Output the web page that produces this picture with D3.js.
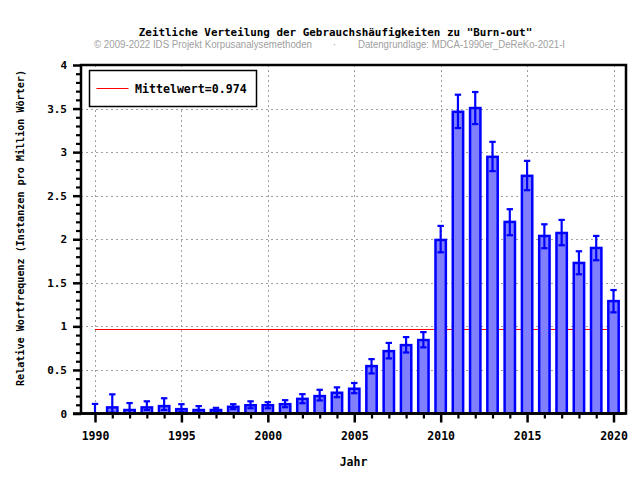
<!DOCTYPE html>
<html><head><meta charset="utf-8">
<script src="https://cdn.jsdelivr.net/npm/d3@7/dist/d3.min.js"></script>
<style>body{margin:0;background:#fff}svg{display:block}</style>
</head><body>
<svg id="c" width="640" height="480"></svg>
<script>
const years = d3.range(1990, 2021);
const values = [0, 0.07, 0.04, 0.07, 0.085, 0.05, 0.04, 0.04, 0.077, 0.095, 0.095, 0.107, 0.168, 0.2, 0.238, 0.284,
  0.544, 0.716, 0.785, 0.843, 1.992, 3.463, 3.506, 2.946, 2.199, 2.728, 2.038, 2.072, 1.728, 1.9, 1.29];
const upper = [0.11, 0.22, 0.12, 0.14, 0.175, 0.107, 0.085, 0.065, 0.107, 0.14, 0.13, 0.153, 0.222, 0.272, 0.30, 0.35,
  0.624, 0.81, 0.877, 0.934, 2.153, 3.659, 3.69, 3.118, 2.345, 2.9, 2.172, 2.222, 1.862, 2.038, 1.417];
const lower = [0, 0.01, 0.005, 0.04, 0.04, 0.02, 0.01, 0.02, 0.05, 0.06, 0.06, 0.072, 0.118, 0.15, 0.187, 0.233,
  0.46, 0.632, 0.70, 0.759, 1.85, 3.276, 3.322, 2.782, 2.046, 2.563, 1.897, 1.931, 1.598, 1.759, 1.161];
const meanValue = 0.974;
const xTickLabels = [1990, 1995, 2000, 2005, 2010, 2015, 2020];
const yTickLabels = ["0", "0.5", "1", "1.5", "2", "2.5", "3", "3.5", "4"];
const titleText = 'Zeitliche Verteilung der Gebrauchshäufigkeiten zu "Burn-out"';
const copyText = "© 2009-2022 IDS Projekt Korpusanalysemethoden";
const sourceText = "Datengrundlage: MDCA-1990er_DeReKo-2021-I";
const xLabel = "Jahr";
const yLabel = "Relative Wortfrequenz (Instanzen pro Million Wörter)";
const legendLabel = "Mittelwert=" + meanValue;

const L = 81, R = 626, T = 65, B = 413.5;
const mono = "'DejaVu Sans Mono', monospace";
const svg = d3.select("#c");

const x = d3.scaleLinear().domain([1990, 2020]).range([95, 613.5]);
const y = d3.scaleLinear().domain([0, 4]).range([B, T]);
const step = x(1991) - x(1990);
const bw = step * 0.6;

// grid
const grid = svg.append("g").attr("stroke", "#a0a0a0").attr("stroke-width", 1).attr("stroke-dasharray", "2,3");
grid.selectAll("line.h").data(d3.range(0.5, 4, 0.5)).join("line")
  .attr("x1", L).attr("x2", R).attr("y1", d => Math.round(y(d)) + 0.5).attr("y2", d => Math.round(y(d)) + 0.5);
grid.selectAll("line.v").data(xTickLabels).join("line")
  .attr("y1", T).attr("y2", B).attr("x1", d => Math.round(x(d)) + 0.5).attr("x2", d => Math.round(x(d)) + 0.5);

// mean line
svg.append("line").attr("x1", x(1990)).attr("x2", x(2020))
  .attr("y1", Math.round(y(meanValue)) + 0.5).attr("y2", Math.round(y(meanValue)) + 0.5)
  .attr("stroke", "#ff0000").attr("stroke-width", 1);

// bars
svg.append("g").selectAll("rect").data(years).join("rect")
  .attr("x", (d) => x(d) - bw / 2)
  .attr("width", bw)
  .attr("y", (d, i) => y(values[i]))
  .attr("height", (d, i) => y(0) - y(values[i]))
  .attr("fill", "#8080ff").attr("stroke", "#0000ff").attr("stroke-width", 2.5);

// error bars
const eb = svg.append("g").attr("stroke", "#0000ff").attr("stroke-width", 2.2);
years.forEach((yr, i) => {
  const cx = x(yr);
  eb.append("line").attr("x1", cx).attr("x2", cx).attr("y1", y(lower[i])).attr("y2", y(upper[i]));
  eb.append("line").attr("x1", cx - 3.2).attr("x2", cx + 3.2).attr("y1", y(upper[i])).attr("y2", y(upper[i]));
  eb.append("line").attr("x1", cx - 3.2).attr("x2", cx + 3.2).attr("y1", y(lower[i])).attr("y2", y(lower[i]));
});

// frame
svg.append("path").attr("d", `M${L},${B} L${L},${T} L${R},${T} L${R},${B} Z`)
  .attr("fill", "none").attr("stroke", "#000").attr("stroke-width", 2.5);

// y axis ticks
const yAxis = d3.axisLeft(y).tickValues(d3.range(0, 4.01, 0.5)).tickSize(8)
  .tickFormat((d, i) => yTickLabels[i]).tickPadding(6);
const gy = svg.append("g").attr("transform", `translate(${L},0)`).call(yAxis);
gy.select(".domain").remove();
gy.selectAll(".tick line").attr("stroke", "#000").attr("stroke-width", 2.5);
gy.selectAll(".tick text").attr("font-family", mono).attr("font-weight", "bold").attr("font-size", "11px").attr("fill", "#000");
const yMinor = d3.axisLeft(y).tickValues(d3.range(0, 40).map(d => d / 10).filter((d, i) => i % 5 !== 0)).tickSize(5).tickFormat("");
const gym = svg.append("g").attr("transform", `translate(${L},0)`).call(yMinor);
gym.select(".domain").remove();
gym.selectAll(".tick line").attr("stroke", "#000").attr("stroke-width", 2.2);

// x axis ticks
const xAxis = d3.axisBottom(x).tickValues(xTickLabels).tickSize(9).tickFormat(d3.format("d")).tickPadding(9);
const gx = svg.append("g").attr("transform", `translate(0,${B})`).call(xAxis);
gx.select(".domain").remove();
gx.selectAll(".tick line").attr("stroke", "#000").attr("stroke-width", 2.5);
gx.selectAll(".tick text").attr("font-family", mono).attr("font-weight", "bold").attr("font-size", "11.5px").attr("fill", "#000");
const xMinor = d3.axisBottom(x).tickValues(years.filter(d => d % 5 !== 0)).tickSize(5).tickFormat("");
const gxm = svg.append("g").attr("transform", `translate(0,${B})`).call(xMinor);
gxm.select(".domain").remove();
gxm.selectAll(".tick line").attr("stroke", "#000").attr("stroke-width", 2.2);
// bottom axis line extending left
svg.append("line").attr("x1", L - 8).attr("x2", R).attr("y1", B).attr("y2", B).attr("stroke", "#000").attr("stroke-width", 2.5);

// titles
svg.append("text").attr("x", 335.5).attr("y", 36).attr("text-anchor", "middle")
  .attr("font-family", mono).attr("font-weight", "bold").attr("font-size", "10.9px").text(titleText);
const sub = svg.append("g").attr("font-family", "'Liberation Sans', Arial, sans-serif").attr("font-size", "10px").attr("fill", "#a0a0a0");
sub.append("text").attr("x", 94).attr("y", 48).attr("textLength", 218).attr("lengthAdjust", "spacingAndGlyphs").text(copyText);
sub.append("text").attr("x", 334.5).attr("y", 48).attr("text-anchor", "middle").text("·");
sub.append("text").attr("x", 358).attr("y", 48).attr("textLength", 207).attr("lengthAdjust", "spacingAndGlyphs").text(sourceText);

// axis labels
svg.append("text").attr("x", (L + R) / 2).attr("y", 466).attr("text-anchor", "middle")
  .attr("font-family", mono).attr("font-weight", "bold").attr("font-size", "11.5px").text(xLabel);
svg.append("text").attr("transform", `translate(24,228) rotate(-90)`).attr("text-anchor", "middle")
  .attr("font-family", mono).attr("font-weight", "bold").attr("font-size", "10.1px").text(yLabel);

// legend
const lg = svg.append("g");
lg.append("rect").attr("x", 89.5).attr("y", 70.5).attr("width", 167).attr("height", 36)
  .attr("fill", "#fff").attr("stroke", "#000").attr("stroke-width", 1.5);
lg.append("line").attr("x1", 96.5).attr("x2", 128.5).attr("y1", 88.5).attr("y2", 88.5).attr("stroke", "#ff0000").attr("stroke-width", 1);
lg.append("text").attr("x", 135).attr("y", 92.5).attr("font-family", mono).attr("font-weight", "bold")
  .attr("font-size", "11.6px").text(legendLabel);
</script>
</body></html>
